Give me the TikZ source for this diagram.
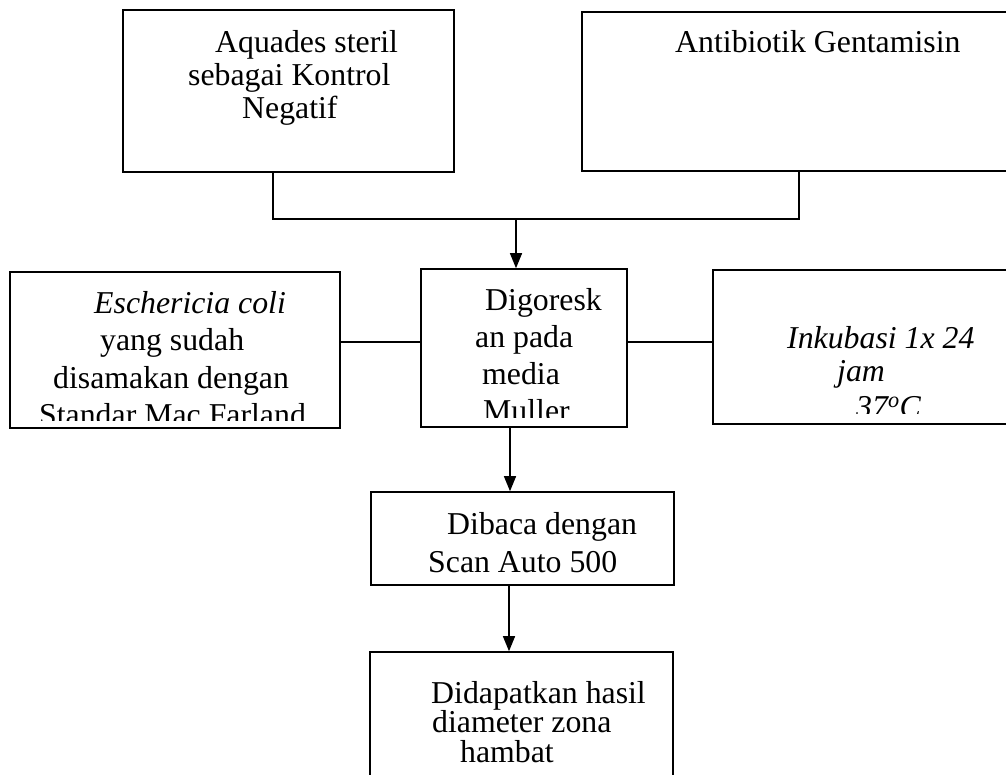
\documentclass[tikz,border=0pt]{standalone}
\usepackage{fontspec}
\setmainfont{Liberation Serif}
\usetikzlibrary{arrows.meta}
\begin{document}
\begin{tikzpicture}[x=1pt,y=-1pt,
  box/.style={draw, line width=1.6pt, inner sep=0pt, rectangle},
  txt/.style={anchor=base west, inner sep=0pt, font=\fontsize{31.8}{37}\selectfont},
  conn/.style={line width=1.3pt},
  arr/.style={line width=1.3pt, -{Triangle[length=15pt,width=12pt]}}]
\useasboundingbox (0,0) rectangle (1006,774);
\fill[white] (0,0) rectangle (1006,774);
% boxes
\node[box, minimum width=331pt, minimum height=162pt] (aq) at (288.5,91) {};
\node[box, minimum width=438pt, minimum height=159pt] (ant) at (801,91.5) {};
\node[box, minimum width=206pt, minimum height=158pt] (dig) at (524,348) {};
\node[box, minimum width=330pt, minimum height=156pt] (esc) at (175,350) {};
\node[box, minimum width=307pt, minimum height=154pt] (ink) at (866.5,347) {};
\node[box, minimum width=303pt, minimum height=93pt] (dib) at (522.5,538.5) {};
\node[box, minimum width=303pt, minimum height=148pt] (did) at (521.5,726) {};
% texts
\node[txt] (aq1) at (215,52) {Aquades steril};
\node[txt] (aq2) at (188,85) {sebagai Kontrol};
\node[txt] (aq3) at (242,118) {Negatif};
\node[txt] (ant1) at (675,52) {Antibiotik Gentamisin};
\node[txt] (esc1) at (94,313) {\itshape Eschericia coli};
\node[txt] (esc2) at (100,350) {yang sudah};
\node[txt] (esc3) at (53,388) {disamakan dengan};
\begin{scope}
\clip (0,0) rectangle (1006,420);
\node[txt] (esc4) at (39,425) {Standar Mac Farland};
\end{scope}
\node[txt] (dig1) at (485,310) {Digoresk};
\node[txt] (dig2) at (475,347) {an pada};
\node[txt] (dig3) at (482,384) {media};
\begin{scope}
\clip (0,0) rectangle (1006,417);
\node[txt] (dig4) at (483,421) {Muller};
\end{scope}
\node[txt] (ink1) at (787,348) {\itshape Inkubasi 1x 24};
\node[txt] (ink2) at (837,381) {\itshape jam};
\begin{scope}
\clip (0,0) rectangle (1006,413);
\node[txt] (ink3) at (856,417) {\itshape 37\textsuperscript{o}C};
\end{scope}
\node[txt] (dib1) at (447,534) {Dibaca dengan};
\node[txt] (dib2) at (428,572) {Scan Auto 500};
\node[txt] (did1) at (431,703) {Didapatkan hasil};
\node[txt] (did2) at (432,732) {diameter zona};
\node[txt] (did3) at (460,762) {hambat};
% connectors
\coordinate (jl) at (273,219);
\coordinate (jr) at (799,219);
\coordinate (jm) at (516,219);
\coordinate (hh) at (0,342);
\coordinate (a1) at (510,0);
\coordinate (a2) at (509,0);
\draw[conn] (aq.south -| jl) -- (jl) -- (jr) -- (ant.south -| jr);
\draw[arr] (jm) -- (dig.north -| jm);
\draw[conn] (esc.east |- hh) -- (dig.west |- hh);
\draw[conn] (dig.east |- hh) -- (ink.west |- hh);
\draw[arr] (dig.south -| a1) -- (dib.north -| a1);
\draw[arr] (dib.south -| a2) -- (did.north -| a2);
\end{tikzpicture}
\end{document}
